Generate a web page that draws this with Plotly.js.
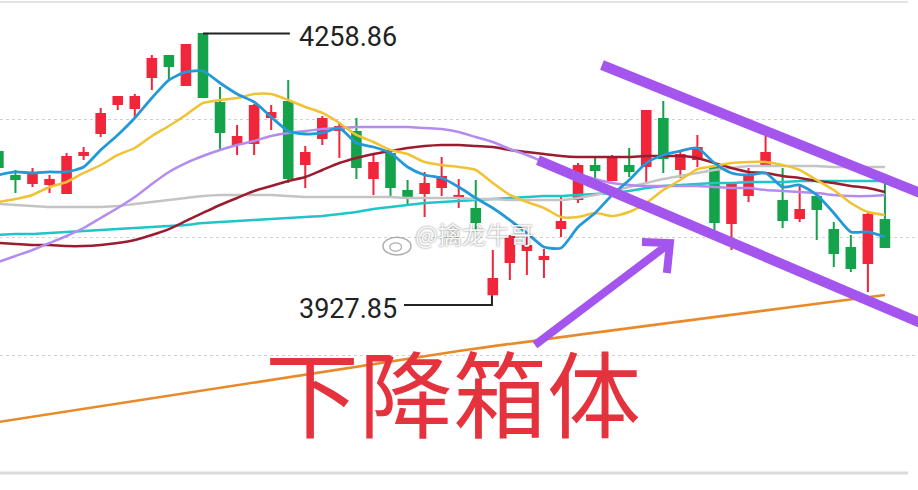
<!DOCTYPE html>
<html>
<head>
<meta charset="utf-8">
<script src="https://cdn.plot.ly/plotly-3.0.1.min.js"></script>
<style>html,body{margin:0;padding:0;background:#fff;}#chart{width:918px;height:490px;}</style>
</head>
<body>
<div id="chart"></div>
<script>
// ---- data (index = trading day, price = index points) ----
const days = [0,1,2,3,4,5,6,7,8,9,10,11,12,13,14,15,16,17,18,19,20,21,22,23,24,25,26,27,28,29,30,31,32,33,34,35,36,37,38,39,40,41,42,43,44,45,46,47,48,49,50,51,52];
const openP  = [4109.0,4078.6,4069.7,4068.5,4057.1,4105.2,4133.0,4169.7,4164.6,4203.8,4230.4,4193.7,4258.2,4170.9,4119.1,4120.3,4153.2,4172.2,4093.8,4126.7,4136.8,4134.3,4076.1,4106.4,4059.6,4057.1,4064.7,4050.8,4036.9,3929.0,3969.8,3985.0,3973.6,4012.8,4049.5,4091.2,4073.5,4091.2,4091.2,4150.7,4087.4,4100.1,4088.7,4019.1,4054.6,4091.2,4047.0,4025.5,4052.0,4010.3,3987.5,3968.5,4022.9];
const highP  = [4115.3,4086.2,4088.7,4079.9,4107.7,4115.3,4164.6,4179.5,4182.3,4231.7,4231.7,4245.6,4258.86,4191.2,4143.1,4169.7,4168.4,4200.0,4116.5,4154.5,4146.9,4152.0,4105.2,4107.0,4073.5,4083.7,4102.6,4074.8,4073.5,3985.0,4003.9,4001.4,3986.2,4053.3,4095.0,4101.4,4105.2,4114.0,4162.1,4173.5,4111.5,4130.5,4092.5,4068.0,4088.7,4133.0,4088.7,4067.2,4053.0,4020.4,4003.9,4031.8,4069.7];
const lowP   = [4086.2,4057.1,4064.7,4057.1,4056.0,4098.8,4127.9,4162.1,4153.2,4187.4,4200.0,4192.4,4177.5,4111.5,4105.2,4105.2,4136.8,4069.7,4063.4,4117.8,4101.4,4074.8,4054.6,4053.3,4041.9,4026.7,4053.3,4038.1,4007.8,3927.85,3947.0,3953.4,3949.6,4001.4,4044.4,4073.5,4072.0,4077.3,4069.7,4082.4,4076.1,4090.0,4010.3,3985.0,4045.7,4090.0,4012.8,4020.4,3997.6,3963.5,3957.2,3931.9,3987.5];
const closeP = [4090.0,4074.8,4081.1,4073.5,4102.6,4107.7,4157.0,4178.5,4178.5,4226.6,4217.7,4244.3,4178.5,4134.3,4127.9,4167.1,4158.3,4076.1,4107.7,4150.7,4140.6,4090.0,4095.0,4064.7,4052.0,4068.5,4077.3,4053.3,4020.4,3948.3,4001.4,3990.0,3976.1,4020.4,4091.2,4086.2,4102.6,4084.9,4160.8,4101.4,4105.2,4114.0,4020.4,4067.2,4079.9,4107.7,4022.9,4035.6,4036.9,3981.2,3962.2,4029.2,3988.8];

const ma5   = [4079.9,4083.7,4082.4,4083.7,4083.7,4090.0,4111.5,4130.5,4152.0,4177.3,4200.0,4210.2,4211.4,4196.2,4182.3,4172.2,4153.2,4135.5,4131.7,4133.0,4139.3,4120.3,4115.3,4107.7,4090.0,4079.9,4076.1,4064.7,4050.8,4038.1,4022.9,4006.5,3988.8,3987.5,4014.1,4031.8,4054.6,4073.5,4095.0,4105.2,4110.2,4114.0,4095.0,4082.4,4079.9,4082.4,4064.7,4067.2,4054.6,4031.8,4007.8,4007.8,4001.4];
const ma10  = [4045.7,4049.5,4054.6,4064.7,4071.0,4082.4,4092.5,4105.2,4114.0,4129.2,4141.9,4155.8,4170.9,4174.7,4177.3,4182.3,4182.3,4174.7,4165.9,4158.3,4145.6,4130.5,4121.6,4111.5,4106.4,4096.3,4092.5,4090.0,4086.2,4069.7,4054.6,4045.7,4038.1,4026.7,4026.7,4031.8,4028.0,4033.1,4044.4,4060.9,4073.5,4087.4,4091.2,4095.0,4096.3,4096.3,4092.5,4086.2,4073.5,4060.9,4044.4,4033.1,4029.2];
const ma20  = [3969.8,3977.4,3985.0,3993.8,4002.7,4012.8,4025.5,4038.1,4052.0,4068.5,4083.7,4095.0,4103.9,4111.5,4117.8,4122.9,4129.2,4133.0,4135.5,4138.1,4139.3,4140.6,4140.6,4140.6,4140.6,4139.3,4138.1,4134.3,4127.9,4121.6,4112.7,4105.2,4096.3,4088.7,4081.1,4074.8,4069.7,4067.2,4065.9,4065.9,4065.9,4065.9,4064.7,4063.4,4063.4,4060.9,4059.6,4058.4,4057.1,4054.6,4053.3,4053.3,4054.6];
const ma30  = [3993.8,3992.6,3991.3,3991.3,3990.0,3990.0,3991.3,3993.8,3997.6,4004.0,4011.5,4021.7,4031.8,4041.9,4050.8,4059.6,4065.9,4072.3,4077.3,4086.2,4095.0,4101.4,4106.4,4110.2,4114.0,4116.5,4117.8,4117.8,4116.5,4115.3,4111.5,4108.9,4106.4,4103.9,4102.6,4102.6,4102.6,4102.6,4103.9,4103.9,4103.9,4101.4,4095.0,4088.7,4083.7,4082.4,4078.6,4076.1,4072.3,4069.7,4065.9,4063.4,4058.4];
const ma60  = [4043.2,4041.9,4040.6,4039.4,4039.4,4039.4,4039.4,4040.6,4043.2,4045.7,4048.2,4050.8,4053.3,4054.6,4054.6,4054.6,4054.6,4053.3,4052.0,4052.0,4052.0,4052.0,4052.0,4052.0,4050.8,4050.8,4050.8,4050.8,4049.5,4049.5,4048.2,4048.2,4048.2,4048.2,4050.8,4054.6,4059.6,4064.7,4069.7,4074.8,4078.6,4082.4,4086.2,4088.7,4091.2,4091.2,4091.2,4091.2,4091.2,4090.0,4090.0,4090.0,4090.0];
const ma120 = [4004.0,4005.2,4005.2,4006.5,4007.8,4009.0,4010.3,4011.5,4012.8,4014.1,4015.3,4016.6,4019.1,4020.4,4021.7,4022.9,4024.2,4025.5,4026.7,4028.0,4030.5,4033.1,4036.9,4039.4,4041.9,4044.4,4045.7,4047.0,4048.2,4049.5,4050.8,4052.0,4053.3,4053.3,4054.6,4055.8,4057.1,4059.6,4063.4,4065.9,4067.2,4068.5,4069.7,4069.7,4071.0,4071.0,4071.0,4072.3,4072.3,4072.3,4072.3,4072.3,4072.3];
const trendDays = [0, 27, 52];
const trendVals = [3767.4, 3857.2, 3928.1];

const highLabel = '4258.86';
const lowLabel = '3927.85';
const bigText = '下降箱体';
const watermark = '@擒龙牛哥';

// hand-drawn marks (day index, price)
const upperChannel = [[35.40, 4219.0], [54.64, 4052.0]];
const lowerChannel = [[31.65, 4098.8], [54.64, 3887.6]];
const arrowShaft = [[31.47, 3864.8], [39.39, 3993.8]];
const arrowHeadA = [37.75, 3995.1];
const arrowHeadB = [39.21, 3955.9];

// ---- chart ----
const yRange = [3702.9, 4298.7];
const grid = [1,2,3].map(k => yRange[0] + k*(yRange[1]-yRange[0])/4);
const UP = '#f1263a', DOWN = '#14a24a', PURPLE = '#a455ee';

const traces = [{
  type: 'candlestick', x: days, open: openP, high: highP, low: lowP, close: closeP,
  increasing: {line: {color: UP, width: 2}, fillcolor: UP},
  decreasing: {line: {color: DOWN, width: 2}, fillcolor: DOWN},
  whiskerwidth: 0, hoverinfo: 'skip', showlegend: false
}];
function line(y, color, w, xs) {
  traces.push({type: 'scatter', mode: 'lines', x: xs || days, y: y,
    line: {color: color, width: w, shape: 'spline', smoothing: 0.6}, hoverinfo: 'skip', showlegend: false});
}
line(trendVals, '#e8892a', 2.6, trendDays);
line(ma120, '#1fc5c9', 2.5);
line(ma60, '#c4c4c4', 2.5);
line(ma30, '#9a1c2e', 2.5);
line(ma20, '#b48cf0', 2.5);
line(ma10, '#f1c232', 2.5);
line(ma5, '#2499d6', 2.8);

const seg = (p, q, color, w) => ({type: 'line', xref: 'x', yref: 'y', x0: p[0], y0: p[1], x1: q[0], y1: q[1], line: {color: color, width: w}, layer: 'above'});

const layout = {
  width: 918, height: 490,
  margin: {l: 0, r: 0, t: 2, b: 17},
  paper_bgcolor: '#ffffff', plot_bgcolor: '#ffffff',
  showlegend: false, boxgap: 0.28,
  xaxis: {range: [0.094, 53.94], showgrid: false, zeroline: false, showticklabels: false, ticks: '',
          rangeslider: {visible: false}, fixedrange: true},
  yaxis: {range: yRange, tickmode: 'array', tickvals: grid, showticklabels: false, ticks: '',
          gridcolor: '#d2d2d2', griddash: '3px,3px', gridwidth: 1, zeroline: false, fixedrange: true},
  shapes: [
    {type: 'line', xref: 'paper', yref: 'paper', x0: 0, x1: 0.989, y0: 1, y1: 1, line: {color: '#e2e2e2', width: 2}},
    {type: 'line', xref: 'paper', yref: 'paper', x0: 0, x1: 0.989, y0: 0, y1: 0, line: {color: '#dadada', width: 3}},
    {type: 'line', xref: 'x', yref: 'y', x0: 12, y0: 4258.86, x1: 17.1, y1: 4258.86, line: {color: '#222', width: 2}},
    {type: 'path', xref: 'x', yref: 'y', path: 'M23.79,3915.4 L28.95,3915.4 L28.95,3927.85', line: {color: '#222', width: 2}},
    // watermark logo (weibo eye)
    {type: 'circle', xref: 'x', yref: 'y', x0: 22.56, x1: 24.2, y0: 3978.7, y1: 4001.0, layer: 'above',
     line: {color: 'rgba(140,140,140,0.7)', width: 1.5}, fillcolor: 'rgba(255,255,255,0.6)'},
    {type: 'circle', xref: 'x', yref: 'y', x0: 22.95, x1: 23.65, y0: 3983.5, y1: 3994.0, layer: 'above',
     line: {color: 'rgba(140,140,140,0.7)', width: 1.2}},
    seg(upperChannel[0], upperChannel[1], PURPLE, 10),
    seg(lowerChannel[0], lowerChannel[1], PURPLE, 10),
    {type: 'path', xref: 'x', yref: 'y', layer: 'above', line: {color: PURPLE, width: 8},
     path: 'M' + arrowShaft[0].join(',') + ' L' + arrowShaft[1].join(',') +
           ' M' + arrowHeadA.join(',') + ' L' + arrowShaft[1].join(',') + ' L' + arrowHeadB.join(',')}
  ],
  annotations: [
    {x: 17.51, y: 4254.4, xref: 'x', yref: 'y', text: highLabel, showarrow: false, xanchor: 'left', yanchor: 'middle',
     font: {family: 'Roboto, sans-serif', size: 27, color: '#222'}},
    {x: 17.51, y: 3910.3, xref: 'x', yref: 'y', text: lowLabel, showarrow: false, xanchor: 'left', yanchor: 'middle',
     font: {family: 'Roboto, sans-serif', size: 27, color: '#222'}},
    {x: 26.66, y: 3808.0, xref: 'x', yref: 'y', text: bigText, showarrow: false, xanchor: 'center', yanchor: 'middle',
     font: {family: '"Noto Sans CJK SC", sans-serif', size: 94, color: '#e5333d'}},
    {x: 27.9, y: 4006.0, xref: 'x', yref: 'y', text: watermark, showarrow: false, xanchor: 'center', yanchor: 'middle',
     font: {family: '"Noto Sans CJK SC", sans-serif', size: 24, color: 'rgba(255,255,255,0.95)', shadow: '0px 0px 2px rgba(0,0,0,0.6)'}}
  ]
};

Plotly.newPlot('chart', traces, layout, {displayModeBar: false, staticPlot: true});
</script>
</body>
</html>
